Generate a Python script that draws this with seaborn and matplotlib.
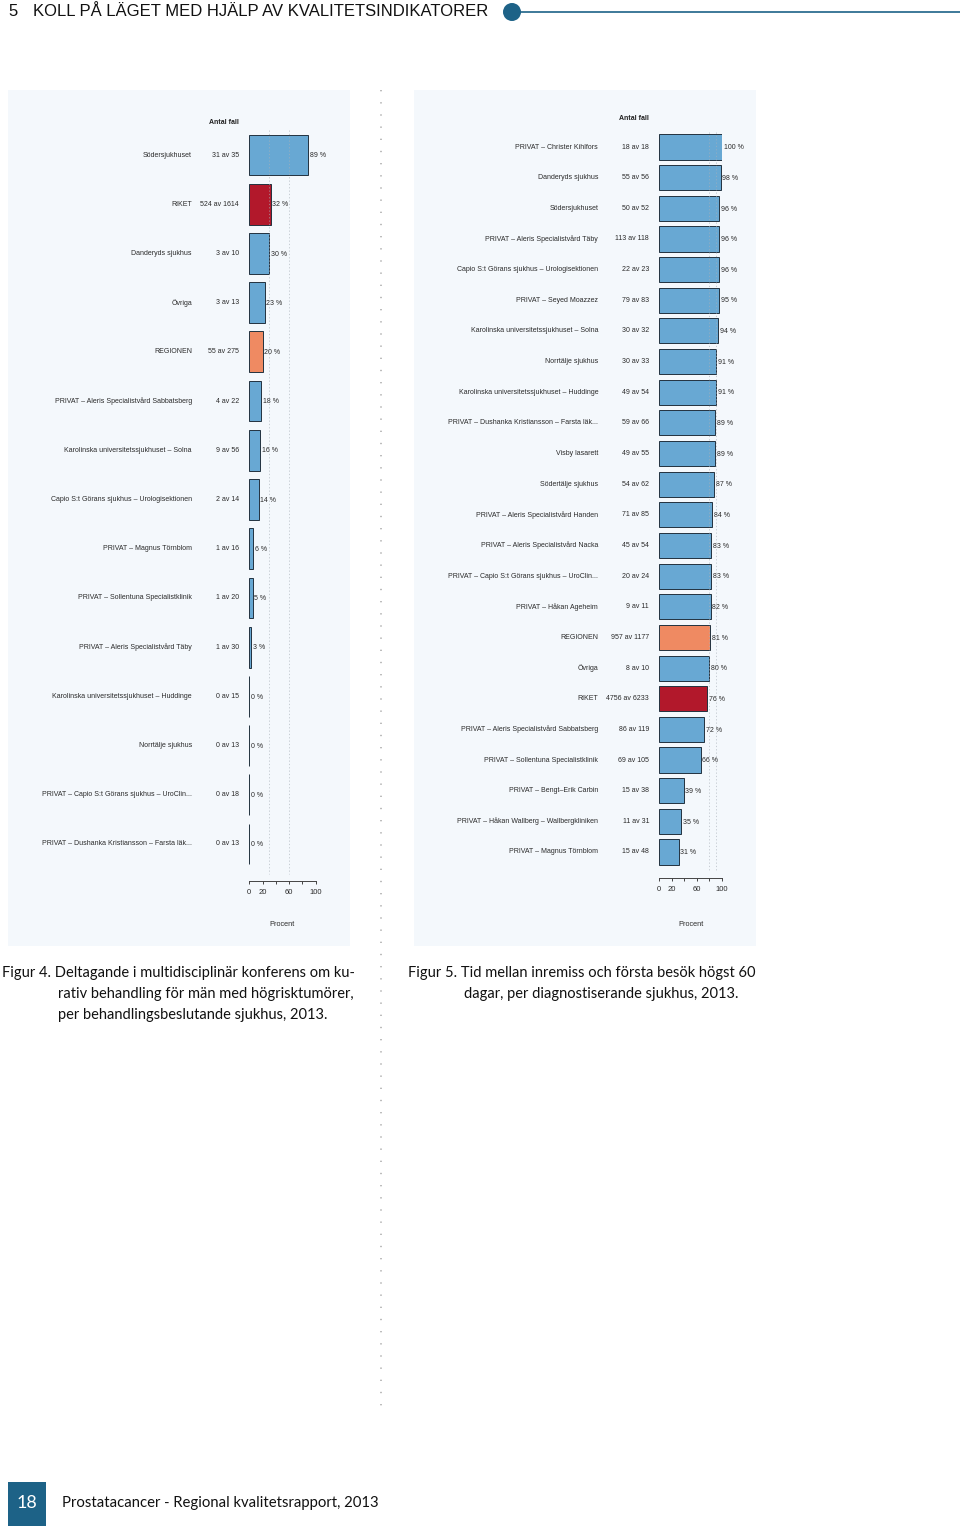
import matplotlib
matplotlib.use('Agg')
import matplotlib.pyplot as plt
from matplotlib.patches import Rectangle, Ellipse
from matplotlib.lines import Line2D
import seaborn as sns

sns.set_theme(style='white')
plt.rcParams['font.family'] = ['Liberation Sans', 'DejaVu Sans']

# Figur 4 - multidisciplinär konferens
names_l = ["Södersjukhuset", "RIKET", "Danderyds sjukhus", "Övriga", "REGIONEN",
           "PRIVAT – Aleris Specialistvård Sabbatsberg",
           "Karolinska universitetssjukhuset – Solna",
           "Capio S:t Görans sjukhus – Urologisektionen",
           "PRIVAT – Magnus Törnblom", "PRIVAT – Sollentuna Specialistklinik",
           "PRIVAT – Aleris Specialistvård Täby",
           "Karolinska universitetssjukhuset – Huddinge", "Norrtälje sjukhus",
           "PRIVAT – Capio S:t Görans sjukhus – UroClin...",
           "PRIVAT – Dushanka Kristiansson – Farsta läk..."]
counts_l = ["31 av 35", "524 av 1614", "3 av 10", "3 av 13", "55 av 275", "4 av 22",
            "9 av 56", "2 av 14", "1 av 16", "1 av 20", "1 av 30", "0 av 15",
            "0 av 13", "0 av 18", "0 av 13"]
pct_l = [89, 32, 30, 23, 20, 18, 16, 14, 6, 5, 3, 0, 0, 0, 0]
ref_l = [30, 60]

# Figur 5 - tid inremiss till första besök
names_r = ["PRIVAT – Christer Kihlfors", "Danderyds sjukhus", "Södersjukhuset",
           "PRIVAT – Aleris Specialistvård Täby",
           "Capio S:t Görans sjukhus – Urologisektionen", "PRIVAT – Seyed Moazzez",
           "Karolinska universitetssjukhuset – Solna", "Norrtälje sjukhus",
           "Karolinska universitetssjukhuset – Huddinge",
           "PRIVAT – Dushanka Kristiansson – Farsta läk...", "Visby lasarett",
           "Södertälje sjukhus", "PRIVAT – Aleris Specialistvård Handen",
           "PRIVAT – Aleris Specialistvård Nacka",
           "PRIVAT – Capio S:t Görans sjukhus – UroClin...", "PRIVAT – Håkan Ageheim",
           "REGIONEN", "Övriga", "RIKET",
           "PRIVAT – Aleris Specialistvård Sabbatsberg",
           "PRIVAT – Sollentuna Specialistklinik", "PRIVAT – Bengt–Erik Carbin",
           "PRIVAT – Håkan Wallberg – Wallbergkliniken", "PRIVAT – Magnus Törnblom"]
counts_r = ["18 av 18", "55 av 56", "50 av 52", "113 av 118", "22 av 23", "79 av 83",
            "30 av 32", "30 av 33", "49 av 54", "59 av 66", "49 av 55", "54 av 62",
            "71 av 85", "45 av 54", "20 av 24", "9 av 11", "957 av 1177", "8 av 10",
            "4756 av 6233", "86 av 119", "69 av 105", "15 av 38", "11 av 31", "15 av 48"]
pct_r = [100, 98, 96, 96, 96, 95, 94, 91, 91, 89, 89, 87, 84, 83, 83, 82, 81, 80,
         76, 72, 66, 39, 35, 31]
ref_r = [80, 90]

tick_vals = [0, 20, 40, 60, 80, 100]
tick_labels = ['0', '20', '', '60', '', '100']

BLUE = '#68a8d3'
RED = '#b2182b'
ORANGE = '#ef8a62'
EDGE = '#22323f'
DARK = '#1d6287'
TXT = '#2a2a2a'

W, H = 960, 1528
fig = plt.figure(figsize=(W / 100, H / 100), dpi=100)
fig.patch.set_facecolor('white')


def rect(x0, y0, x1, y1):
    return [x0 / W, 1 - y1 / H, (x1 - x0) / W, (y1 - y0) / H]


def fy(y):
    return 1 - y / H


def colour(name):
    if name == 'RIKET':
        return RED
    if name == 'REGIONEN':
        return ORANGE
    return BLUE


# panel backgrounds (behind the axes)
for x0, x1 in [(8, 350), (414, 756)]:
    fig.patches.append(Rectangle((x0 / W, fy(946)), (x1 - x0) / W, (946 - 90) / H,
                                 transform=fig.transFigure, facecolor='#f4f8fc',
                                 edgecolor='none', zorder=-5))


def draw_chart(box, names, counts, pct, refs, width, outward, name_off, head_y, head_x):
    ax = fig.add_axes(rect(*box))
    ax.set_facecolor('none')
    sns.barplot(x=pct, y=names, hue=names, palette=[colour(n) for n in names],
                legend=False, orient='h', width=width, edgecolor=EDGE,
                linewidth=0.7, saturation=1, ax=ax)
    n = len(names)
    ax.set_xlim(0, 100)
    ax.set_ylim(n - 0.5, -0.5)
    ax.vlines(refs, -0.5, n - 0.4, colors='#a8b0b8', linestyles=(0, (1.5, 2.5)),
              linewidth=0.6, alpha=0.7, clip_on=False, zorder=5)
    for i, (nm, c, p) in enumerate(zip(names, counts, pct)):
        ax.annotate(f"{p} %", xy=(p, i), xytext=(1.2, -0.5), textcoords='offset points',
                    ha='left', va='center', fontsize=5, color=TXT)
        ax.annotate(c, xy=(0, i), xytext=(-7.4, 0), textcoords='offset points',
                    ha='right', va='center', fontsize=5, color=TXT)
        ax.annotate(nm, xy=(0, i), xytext=(-name_off, 0), textcoords='offset points',
                    ha='right', va='center', fontsize=5, color=TXT)
    for s in ['top', 'right', 'left']:
        ax.spines[s].set_visible(False)
    ax.spines['bottom'].set_position(('outward', outward))
    ax.spines['bottom'].set_bounds(0, 100)
    ax.spines['bottom'].set_color('#444444')
    ax.spines['bottom'].set_linewidth(0.7)
    ax.set_yticks([])
    ax.set_xticks(tick_vals)
    ax.set_xticklabels(tick_labels)
    ax.tick_params(axis='x', bottom=True, length=2.5, width=0.7, pad=3,
                   labelsize=5.5, colors='#444444', labelcolor=TXT)
    ax.set_ylabel('')
    ax.set_xlabel('')
    fig.text((box[0] + box[2]) / 2 / W, fy(925), 'Procent', ha='center', va='center',
             fontsize=5.3, color=TXT)
    fig.text(head_x / W, fy(head_y), 'Antal fall', ha='center', va='center',
             fontsize=5, fontweight='bold', color='#222222')
    return ax


draw_chart((249.3, 130.4, 315.7, 868.6), names_l, counts_l, pct_l, ref_l,
           0.83, 9.0, 41.3, 122, 224)
draw_chart((659.3, 131.7, 722.0, 867.3), names_r, counts_r, pct_r, ref_r,
           0.82, 7.7, 44.0, 118, 634)

# dotted separator
fig.add_artist(Line2D([381 / W, 381 / W], [fy(90), fy(1415)], transform=fig.transFigure,
                      color='#b0b0b0', linewidth=1.2, linestyle=(0, (0.8, 6.5))))

# header
fig.text(8 / W, fy(12), '5', ha='left', va='center', fontsize=12, color='#111111')
fig.text(33 / W, fy(12), 'KOLL PÅ LÄGET MED HJÄLP AV KVALITETSINDIKATORER',
         ha='left', va='center', fontsize=12, color='#111111')
fig.add_artist(Line2D([512 / W, 1], [fy(12), fy(12)], transform=fig.transFigure,
                      color=DARK, linewidth=1.2))
fig.patches.append(Ellipse((512 / W, fy(12)), 18 / W, 18 / H, transform=fig.transFigure,
                           facecolor=DARK, edgecolor='none'))

# captions
cap = dict(ha='left', va='center', fontsize=10.5, color='#111111', family=['Lato', 'DejaVu Sans'])
fig.text(2 / W, fy(973), 'Figur 4. Deltagande i multidisciplinär konferens om ku-', **cap)
fig.text(58 / W, fy(994), 'rativ behandling för män med högrisktumörer,', **cap)
fig.text(58 / W, fy(1015), 'per behandlingsbeslutande sjukhus, 2013.', **cap)
fig.text(408 / W, fy(973), 'Figur 5. Tid mellan inremiss och första besök högst 60', **cap)
fig.text(464 / W, fy(994), 'dagar, per diagnostiserande sjukhus, 2013.', **cap)

# footer
fig.patches.append(Rectangle((8 / W, fy(1526)), 38 / W, 44 / H, transform=fig.transFigure,
                             facecolor=DARK, edgecolor='none'))
fig.text(27 / W, fy(1503), '18', ha='center', va='center', fontsize=13,
         color='white', family=['Lato', 'DejaVu Sans'])
fig.text(62 / W, fy(1503), 'Prostatacancer - Regional kvalitetsrapport, 2013',
         ha='left', va='center', fontsize=10.7, color='#111111', family=['Lato', 'DejaVu Sans'])

fig.savefig('out.png', dpi=100)
